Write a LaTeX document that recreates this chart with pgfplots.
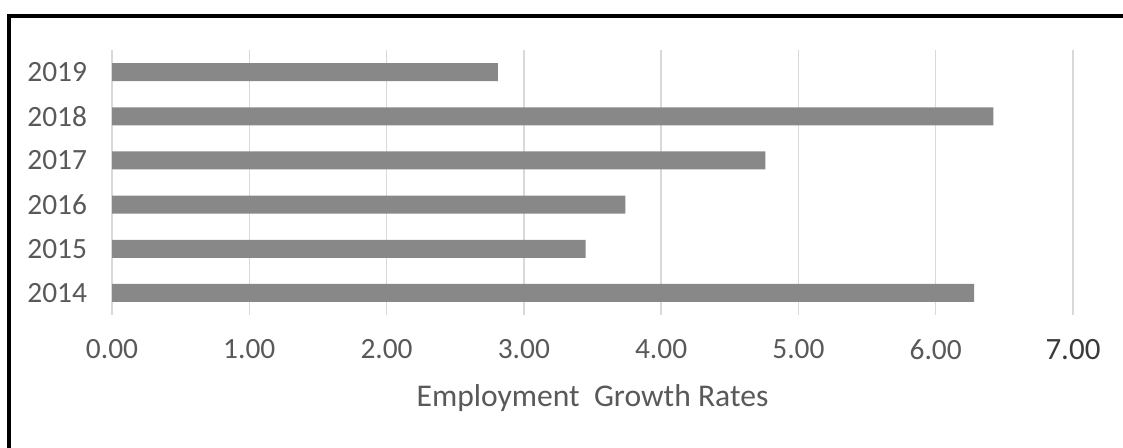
\documentclass[border=0pt]{standalone}
\usepackage{fontspec}
\setmainfont{Carlito}
\usepackage{pgfplots}
\pgfplotsset{compat=1.18}
\definecolor{barc}{RGB}{136,136,136}
\definecolor{txtc}{RGB}{89,89,89}
\definecolor{gridc}{RGB}{217,217,217}
\begin{document}
\begin{tikzpicture}
\path[use as bounding box] (0,0) rectangle (561.5bp,224bp);
\draw[line width=1.6bp,black] (4.5bp,0) -- (4.5bp,216bp) -- (561.5bp,216bp);
\begin{axis}[
  at={(56bp,66.5bp)}, anchor=south west,
  scale only axis,
  width=480.5bp, height=132.5bp,
  xbar, bar width=9bp,
  xmin=0, xmax=7, ymin=-0.5, ymax=5.5,
  axis line style={draw=none},
  major tick length=0pt,
  xmajorgrids, grid style={gridc, line width=0.75bp},
  xtick={0,1,2,3,4,5,6,7},
  xticklabels={0.00,1.00,2.00,3.00,4.00,5.00,6.00,{\color[RGB]{58,58,58}\fontsize{15.5bp}{18bp}\selectfont 7.00}},
  ytick={0,1,2,3,4,5},
  yticklabels={2014,2015,2016,2017,2018,2019},
  ticklabel style={font=\fontsize{14.7bp}{17bp}\selectfont, text=txtc},
  xticklabel style={yshift=-8.7bp},
  yticklabel style={xshift=-9bp},
  xlabel={Employment\ \ Growth Rates},
  xlabel style={at={(axis description cs:0.5,0)}, anchor=base, yshift=-45.5bp, font=\fontsize{15.8bp}{18bp}\selectfont, text=txtc},
]
\addplot[fill=barc, draw=none] coordinates {
  (6.28,0) (3.45,1) (3.74,2) (4.76,3) (6.42,4) (2.81,5)
};
\end{axis}
\end{tikzpicture}
\end{document}
